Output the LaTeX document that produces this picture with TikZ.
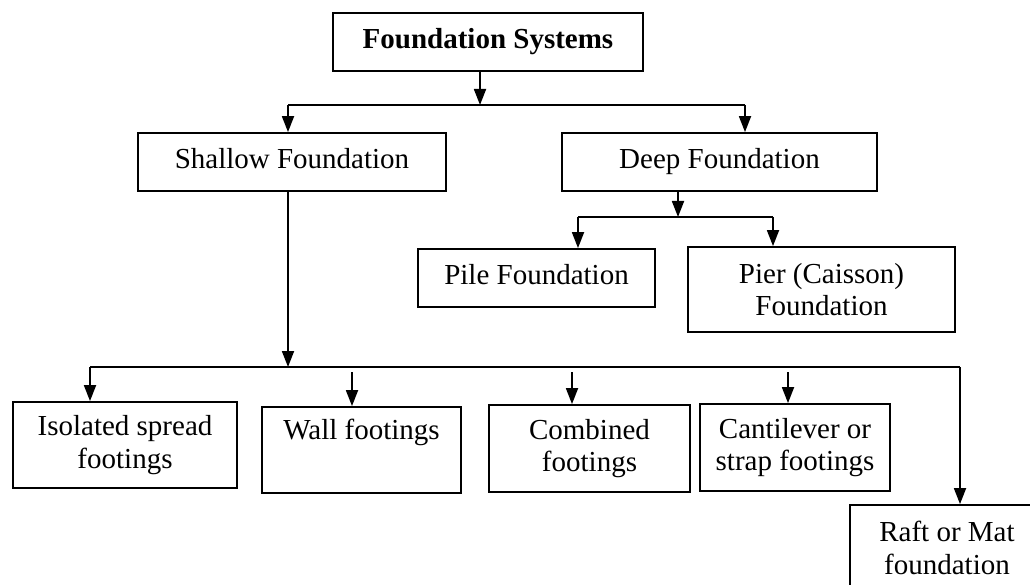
\documentclass[tikz,border=0pt]{standalone}
\usepackage{fontspec}
\setmainfont{Liberation Serif}
\usetikzlibrary{arrows.meta}
\begin{document}
\begin{tikzpicture}[x=1pt,y=-1pt,
  box/.style={draw,line width=1.8pt,inner sep=0pt,align=center,
    font=\fontsize{29}{32.5}\selectfont},
  conn/.style={line width=1.8pt},
  arr/.style={conn,-{Triangle[length=16pt,width=12pt]}}]
\useasboundingbox (0,0) rectangle (1030,585);
\clip (0,0) rectangle (1030,585);
\fill[white] (0,0) rectangle (1030,585);
% boxes
\node[box,minimum width=310pt,minimum height=58pt,font=\fontsize{29}{32.5}\selectfont\bfseries] (title) at (488,42) {\strut Foundation Systems};
\node[box,minimum width=308pt,minimum height=58pt] (sh) at (292,162) {\strut Shallow Foundation};
\node[box,minimum width=315pt,minimum height=58pt] (dp) at (719.5,162) {\strut Deep Foundation};
\node[box,minimum width=237pt,minimum height=58pt] (pile) at (536.5,278) {\strut Pile Foundation};
\node[box,minimum width=267pt,minimum height=85pt] (pier) at (821.5,289.5) {Pier (Caisson)\\Foundation};
\node[box,minimum width=224pt,minimum height=86pt] (iso) at (125,445) {Isolated spread\\footings};
\node[box,minimum width=199pt,minimum height=86pt] (wall) at (361.5,450) {Wall footings\\\strut};
\node[box,minimum width=201pt,minimum height=87pt] (comb) at (589.5,448.5) {Combined\\footings};
\node[box,minimum width=190pt,minimum height=87pt] (cant) at (795,447.5) {Cantilever or\\strap footings};
\node[box,minimum width=194pt,minimum height=86pt] (raft) at (947,548) {Raft or Mat\\foundation};
% bus coordinates
\coordinate (b1) at (480,105);
\coordinate (b1l) at (288,105);
\coordinate (b1r) at (745,105);
\coordinate (b2) at (678,217);
\coordinate (b2l) at (578,217);
\coordinate (b2r) at (773,217);
\coordinate (b3) at (288,367);
\coordinate (b3l) at (90,367);
\coordinate (b3r) at (960,367);
\coordinate (s2) at (352,372);
\coordinate (s3) at (572,372);
\coordinate (s4) at (788,372);
% level 1
\draw[arr] (title.south -| b1) -- (b1);
\draw[conn] (b1l) -- (b1r);
\draw[arr] (b1l) -- (sh.north -| b1l);
\draw[arr] (b1r) -- (dp.north -| b1r);
% level 2
\draw[arr] (dp.south -| b2) -- (b2);
\draw[conn] (b2l) -- (b2r);
\draw[arr] (b2l) -- (pile.north -| b2l);
\draw[arr] (b2r) -- (pier.north -| b2r);
% level 3
\draw[arr] (sh.south -| b3) -- (b3);
\draw[conn] (b3l) -- (b3r);
\draw[arr] (b3l) -- (iso.north -| b3l);
\draw[arr] (s2) -- (wall.north -| s2);
\draw[arr] (s3) -- (comb.north -| s3);
\draw[arr] (s4) -- (cant.north -| s4);
\draw[arr] (b3r) -- (raft.north -| b3r);
\end{tikzpicture}
\end{document}
